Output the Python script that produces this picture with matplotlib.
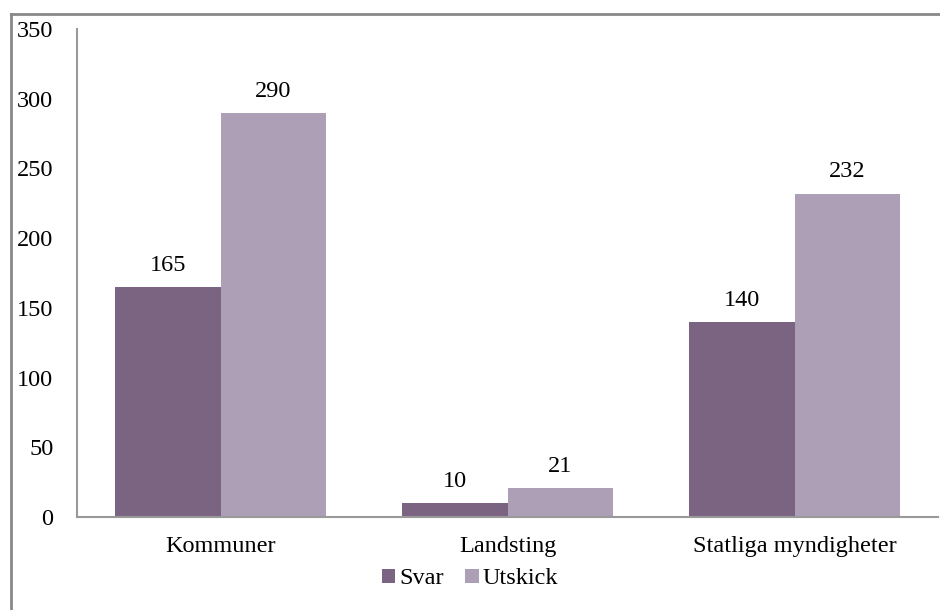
import numpy as np
import matplotlib.pyplot as plt
from matplotlib.lines import Line2D

categories = ["Kommuner", "Landsting", "Statliga myndigheter"]
svar = [165, 10, 140]
utskick = [290, 21, 232]
series_names = ["Svar", "Utskick"]
yticks = [0, 50, 100, 150, 200, 250, 300, 350]

plt.rcParams['font.family'] = ['Liberation Serif', 'DejaVu Serif']
FS = 17.5

c_svar = '#7b6382'
c_uts = '#ada0b6'

fig = plt.figure(figsize=(9.4, 6.1), dpi=100)
ax = fig.add_axes([77 / 940, 1 - 517 / 610, 861 / 940, 488 / 610])

x = np.arange(len(categories))
w = 0.367
b1 = ax.bar(x - w / 2, svar, w, color=c_svar, label=series_names[0])
b2 = ax.bar(x + w / 2, utskick, w, color=c_uts, label=series_names[1])

# value labels above the bars
for bars, vals in ((b1, svar), (b2, utskick)):
    for r, v in zip(bars, vals):
        ax.annotate(str(v), (r.get_x() + r.get_width() / 2, v), xytext=(0, 8),
                    textcoords='offset points', ha='center', va='bottom', fontsize=FS)

ax.set_xlim(-0.5, 2.5)
ax.set_ylim(0, 350)
ax.set_yticks(yticks)
ax.set_xticks(x)
ax.set_xticklabels(categories)
ax.tick_params(axis='both', length=0, labelsize=FS)
ax.tick_params(axis='y', pad=17)
ax.tick_params(axis='x', pad=14)
for s in ['top', 'right']:
    ax.spines[s].set_visible(False)
for s in ['left', 'bottom']:
    ax.spines[s].set_color('#999999')
    ax.spines[s].set_linewidth(1.5)

ax.legend(loc='center', bbox_to_anchor=(470 / 940, 1 - 579 / 610),
          bbox_transform=fig.transFigure, ncol=2, frameon=False,
          prop={'family': ['Liberation Serif'], 'size': FS},
          handlelength=0.55, handleheight=0.55, handletextpad=0.15, columnspacing=0.9,
          borderpad=0)

# outer chart border (only top and left visible in crop)
fig.add_artist(Line2D([11 / 940, 1], [1 - 14 / 610, 1 - 14 / 610], color='#888888', lw=2))
fig.add_artist(Line2D([11 / 940, 11 / 940], [0, 1 - 14 / 610], color='#888888', lw=2))

fig.savefig('out.png', dpi=100)
